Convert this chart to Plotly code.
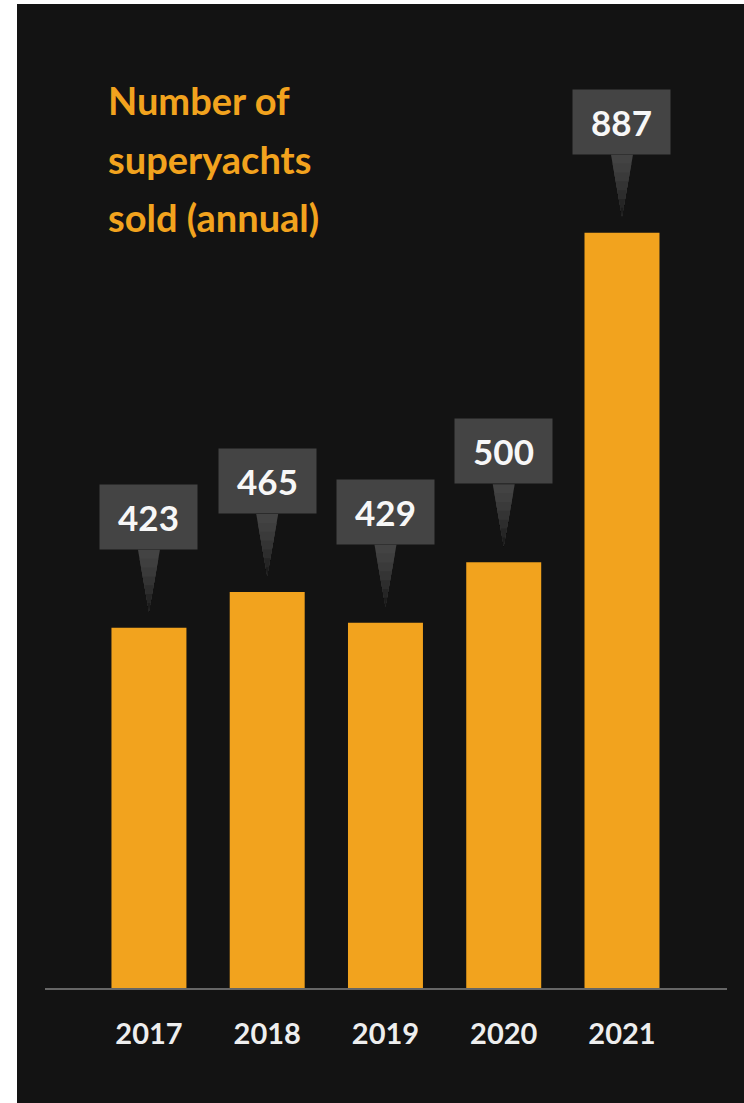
import plotly.graph_objects as go

years = ["2017", "2018", "2019", "2020", "2021"]
sold = [423, 465, 429, 500, 887]
title_lines = ["Number of", "superyachts", "sold (annual)"]

BG = "#131313"
BAR = "#F2A31E"
BOX = "#444444"
FONT = "Lato"

W, H = 744, 1103
ML, MR, MT, MB = 45, 17, 40, 115
PW, PH = W - ML - MR, H - MT - MB


def px_x(p):
    return (p - ML) / PW


def px_y(p):
    return (H - MB - p) / PH


fig = go.Figure()
fig.add_trace(go.Bar(
    x=years, y=sold, width=0.634,
    marker=dict(color=BAR, line=dict(width=0)),
    hoverinfo="skip",
))

shapes = [
    dict(type="rect", xref="paper", yref="paper",
         x0=px_x(17), x1=px_x(W + 5), y0=px_y(H + 5), y1=px_y(4),
         fillcolor=BG, line=dict(width=0), layer="below"),
]

# callout pointers: nested triangles sharing the tip give a smooth fade
seg_cols = ["#434343", "#3f3f3f", "#3a3a3a", "#343434", "#2d2d2d", "#252525", "#1c1c1c"]
top, tip, half = 78, 16, 11
n = len(seg_cols)
for i, v in enumerate(sold):
    for k, c in enumerate(seg_cols):
        f0 = k / n
        ya = top - (top - tip) * f0
        wa = half * (1 - f0)
        shapes.append(dict(
            type="path", xref="x", yref="y",
            xsizemode="pixel", ysizemode="pixel",
            xanchor=i, yanchor=v,
            path=f"M {-wa},{ya} L {wa},{ya} L 0,{tip} Z",
            fillcolor=c, line=dict(width=0), layer="above",
        ))

annotations = []
for i, v in enumerate(sold):
    annotations.append(dict(
        x=i, y=v, xref="x", yref="y", text=f"<b>{v}</b>",
        showarrow=False, yanchor="bottom", xanchor="center",
        yshift=78, width=97, height=64, bgcolor=BOX, borderpad=0,
        valign="middle", align="center",
        font=dict(family=FONT, size=35, color="#f7f7f7"),
    ))

title_y = [100, 159, 217]
for t, yy in zip(title_lines, title_y):
    annotations.append(dict(
        x=px_x(106), y=px_y(yy), xref="paper", yref="paper",
        text=f"<b>{t}</b>", showarrow=False, xanchor="left", yanchor="middle",
        font=dict(family=FONT, size=38, color=BAR),
    ))

fig.update_layout(
    width=W, height=H,
    margin=dict(l=ML, r=MR, t=MT, b=MB, pad=0),
    paper_bgcolor="white", plot_bgcolor="rgba(0,0,0,0)",
    showlegend=False, bargap=0.366,
    shapes=shapes, annotations=annotations,
    xaxis=dict(
        type="category", range=[-0.879, 4.888],
        showline=True, linecolor="#666666", linewidth=2,
        showgrid=False, zeroline=False, ticks="",
        ticklabelstandoff=19,
        tickfont=dict(family=FONT, size=29, color="#eeeeee", weight="bold"),
        fixedrange=True,
    ),
    yaxis=dict(
        range=[0, PH / 0.8515], visible=False, showgrid=False,
        zeroline=False, fixedrange=True,
    ),
)

fig.write_html("out.html")
